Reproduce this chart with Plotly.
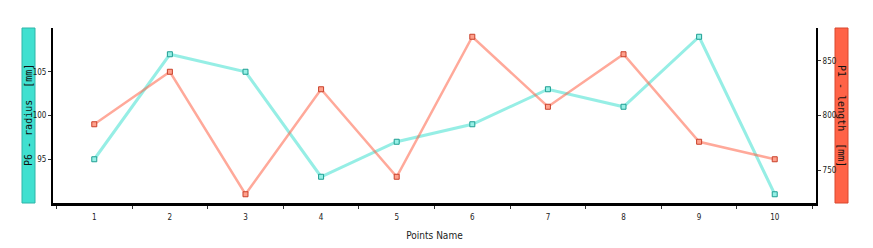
import plotly.graph_objects as go

points = ["1", "2", "3", "4", "5", "6", "7", "8", "9", "10"]
p6_radius = [95, 107, 105, 93, 97, 99, 103, 101, 109, 91]
p1_length = [792, 840, 728, 824, 744, 872, 808, 856, 776, 760]

left_title = "P6 - radius  [mm]"
right_title = "P1 - length  [mm]"
x_title = "Points Name"

W, H = 873, 248
ml, mr, mt, mb = 53, 57, 28, 45
pw = W - ml - mr

def px(p):
    return (p - ml) / pw

fig = go.Figure()
fig.add_trace(go.Scatter(
    x=points, y=p6_radius, mode="lines+markers", yaxis="y",
    line=dict(color="rgba(64,224,208,0.55)", width=3),
    marker=dict(symbol="square", size=5, color="rgba(150,240,230,1)",
                line=dict(color="#1f9e92", width=1)),
    showlegend=False,
))
fig.add_trace(go.Scatter(
    x=points, y=p1_length, mode="lines+markers", yaxis="y2",
    line=dict(color="rgba(255,99,71,0.55)", width=2.5),
    marker=dict(symbol="square", size=5, color="rgba(255,160,140,1)",
                line=dict(color="#c8402a", width=1)),
    showlegend=False,
))

tickfont = dict(family="Liberation Sans Narrow, DejaVu Sans Condensed", size=8, color="#222")

fig.update_layout(
    width=W, height=H,
    margin=dict(l=ml, r=mr, t=mt, b=mb, autoexpand=False),
    paper_bgcolor="white", plot_bgcolor="white",
    xaxis=dict(
        type="category", tickson="boundaries", ticks="outside", ticklen=3,
        tickcolor="#333", tickwidth=1, ticklabelstandoff=4,
        showline=True, linecolor="black", linewidth=3,
        showgrid=False, zeroline=False, tickfont=tickfont, automargin=False,
        title=dict(text=x_title, font=dict(family="Liberation Sans Narrow, DejaVu Sans Condensed", size=10, color="#222"), standoff=12),
    ),
    yaxis=dict(
        range=[90, 110], tickvals=[95, 100, 105], ticks="outside", ticklen=3,
        tickcolor="#333", showline=True, linecolor="black", linewidth=2,
        showgrid=False, zeroline=False, tickfont=tickfont, automargin=False,
    ),
    yaxis2=dict(
        range=[720, 880], tickvals=[750, 800, 850], ticks="outside", ticklen=3,
        tickcolor="#333", overlaying="y", side="right",
        showline=True, linecolor="black", linewidth=2,
        showgrid=False, zeroline=False, tickfont=tickfont, automargin=False,
    ),
    shapes=[
        dict(type="rect", xref="paper", yref="paper", x0=px(22), x1=px(35), y0=0, y1=1,
             fillcolor="#40E0D0", line=dict(color="#2fb5a8", width=1), layer="below"),
        dict(type="rect", xref="paper", yref="paper", x0=px(835), x1=px(848), y0=0, y1=1,
             fillcolor="#FF6347", line=dict(color="#d9492f", width=1), layer="below"),
    ],
    annotations=[
        dict(text=left_title, xref="paper", yref="paper", x=px(28.5), y=0.5,
             showarrow=False, textangle=-90, xanchor="center", yanchor="middle",
             font=dict(family="DejaVu Sans Mono", size=10, color="#111")),
        dict(text=right_title, xref="paper", yref="paper", x=px(841.5), y=0.5,
             showarrow=False, textangle=90, xanchor="center", yanchor="middle",
             font=dict(family="DejaVu Sans Mono", size=10, color="#111")),
    ],
)

fig.write_html("out.html")
